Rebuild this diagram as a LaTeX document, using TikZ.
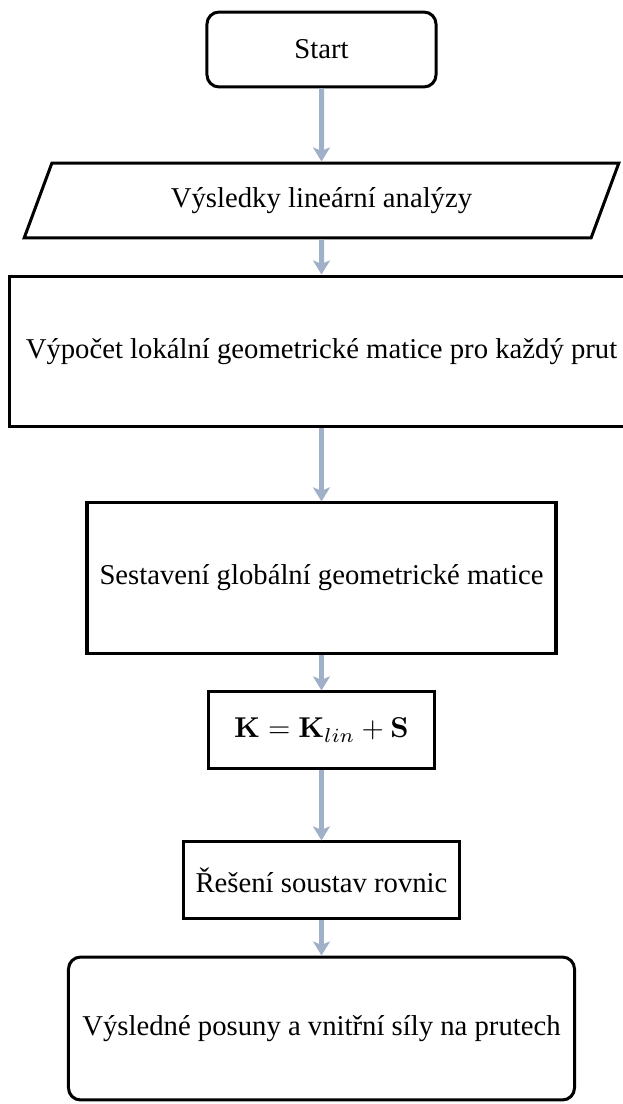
\documentclass[tikz,border=0pt]{standalone}
\usepackage[no-math]{fontspec}
\setmainfont{Liberation Serif}
\usepackage{amsmath}
\usetikzlibrary{shapes.geometric,arrows.meta}

\definecolor{sipkabarva}{RGB}{160,176,200}
\tikzset{
  startstop/.style={rectangle, rounded corners=4.2pt, draw, line width=1.05pt},
  io/.style={trapezium, trapezium left angle=70, trapezium right angle=110,
    trapezium stretches=true, draw, line width=1.05pt},
  process/.style={rectangle, draw, line width=1.05pt},
  tok/.style={line width=1.75pt, draw=sipkabarva,
    -{Stealth[length=4.9pt,width=5.9pt,inset=1.2pt]}},
}

\begin{document}
\begin{tikzpicture}[x=0.3484pt,y=-0.3484pt]
  \useasboundingbox (0,0) rectangle (622,1104);
  % uzly
  \node[startstop, minimum width=79.8pt, minimum height=26.1pt] (start) at (321.5,49.5) {Start};
  \node[io, minimum width=207.3pt, minimum height=26.1pt] (vstup) at (321.5,200.5) {Výsledky lineární analýzy};
  \node[process, minimum width=217.7pt, minimum height=52.6pt] (lokal) at (321.5,351.5) {Výpočet lokální geometrické matice pro každý prut};
  \node[process, minimum width=163.4pt, minimum height=52.3pt] (global) at (321.5,578) {Sestavení globální geometrické matice};
  \node[process, minimum width=78.4pt, minimum height=26.5pt] (soucet) at (321.5,730) {$\mathbf{K}=\mathbf{K}_{lin}+\mathbf{S}$};
  \node[process, minimum width=96.2pt, minimum height=26.5pt] (reseni) at (321.5,880) {Řešení soustav rovnic};
  \node[startstop, minimum width=176.3pt, minimum height=49.8pt] (vystup) at (321.5,1028.5) {Výsledné posuny a vnitřní síly na prutech};
  % sipky
  \draw[tok] (start) -- (vstup);
  \draw[tok] (vstup) -- (lokal);
  \draw[tok] (lokal) -- (global);
  \draw[tok] (global) -- (soucet);
  \draw[tok] (soucet) -- (reseni);
  \draw[tok] (reseni) -- (vystup);
\end{tikzpicture}
\end{document}
